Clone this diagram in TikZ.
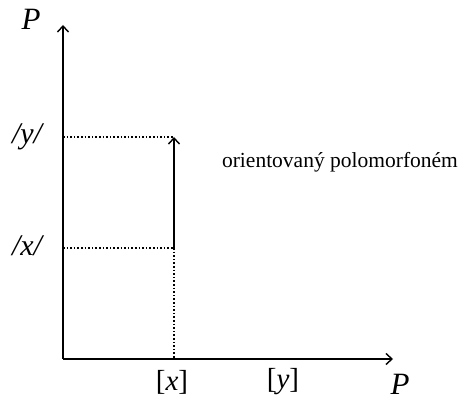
\documentclass[tikz,border=0pt]{standalone}
\usepackage{fontspec}
\setmainfont{Liberation Serif}
\usetikzlibrary{arrows.meta,positioning}

\begin{document}
\begin{tikzpicture}[x=1pt, y=1pt,
  axis/.style={line width=1.8pt, -{Straight Barb[length=6pt,width=11pt,line width=1.4pt]}},
  guide/.style={line width=1.6pt, dotted},
  vect/.style={line width=1.8pt, -{Straight Barb[length=6pt,width=11pt,line width=1.4pt]}},
  axlbl/.style={font=\fontsize{31}{32}\selectfont\itshape, inner sep=0pt},
  brlbl/.style={font=\fontsize{29}{30}\selectfont, inner sep=0pt},
  lbl/.style={font=\fontsize{21.5}{23}\selectfont, inner sep=0pt}
]
\useasboundingbox (0,0) rectangle (466,404);

% axes
\coordinate (origin) at (63,45);
\coordinate (ytop) at (63,379);
\coordinate (xend) at (393,45);
\coordinate (ly) at (63,267);
\coordinate (lx) at (63,156);
\coordinate (py) at (174,267);
\coordinate (px) at (174,156);
\coordinate (bx) at (174,45);

\draw[axis] (origin) -- (ytop);
\draw[axis] (origin) -- (xend);

\node[axlbl] (ptop) at (31,385) {P};
\node[axlbl] (pright) at (400,20) {P};

\node[axlbl, font=\fontsize{30}{32}\selectfont\itshape] (sy) at (27,267) {/y/};
\node[axlbl, font=\fontsize{30}{32}\selectfont\itshape] (sx) at (27,158) {/x/};
\node[brlbl] (bxl) at (172,22) {[\textit{x}]};
\node[brlbl] (byl) at (283,22) {[\textit{y}]};

% dotted guides
\draw[guide] (ly) -- (py);
\draw[guide] (lx) -- (px);
\draw[guide] (px) -- (bx);

% polomorfonem
\draw[vect] (px) -- (py);
\node[lbl] (orient) at (340,242) {orientovaný polomorfoném};
\end{tikzpicture}
\end{document}
